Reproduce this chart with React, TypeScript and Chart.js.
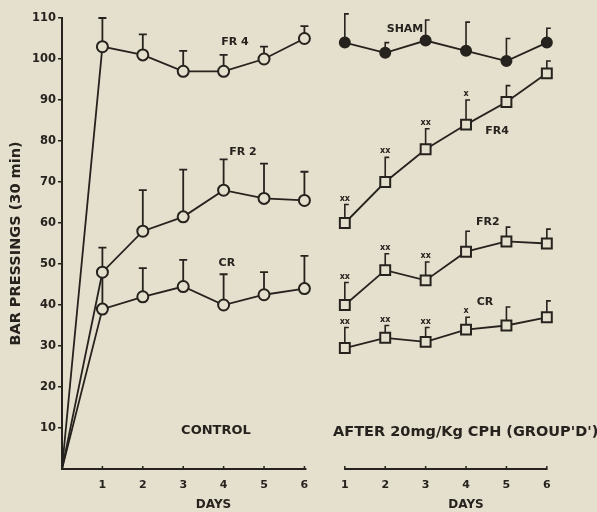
import React, { useEffect, useRef } from 'react';
import { Chart, registerables } from 'chart.js';

Chart.register(...registerables);

// ---------- data ----------
const controlDays = [0, 1, 2, 3, 4, 5, 6];
const ctrlFR4 = [0, 103, 101, 97, 97, 100, 105];
const ctrlFR4Err = [null, 110, 106, 102, 101, 103, 108];
const ctrlFR2 = [0, 48, 58, 61.5, 68, 66, 65.5];
const ctrlFR2Err = [null, 54, 68, 73, 75.5, 74.5, 72.5];
const ctrlCR = [0, 39, 42, 44.5, 40, 42.5, 44];
const ctrlCRErr = [null, 48, 49, 51, 47.5, 48, 52];

const cphDays = [7, 8, 9, 10, 11, 12]; // days 1..6 after CPH, placed after the control block
const cphSham = [104, 101.5, 104.5, 102, 99.5, 104];
const cphShamErr = [111, 104, 109.5, 109, 105, 107.5];
const cphFR4 = [60, 70, 78, 84, 89.5, 96.5];
const cphFR4Err = [64.5, 76, 83, 90, 93.5, 99.5];
const cphFR4Sig = ['xx', 'xx', 'xx', 'x', '', ''];
const cphFR2 = [40, 48.5, 46, 53, 55.5, 55];
const cphFR2Err = [45.5, 52.5, 50.5, 58, 59, 58.5];
const cphFR2Sig = ['xx', 'xx', 'xx', '', '', ''];
const cphCR = [29.5, 32, 31, 34, 35, 37];
const cphCRErr = [34.5, 35, 34.5, 37, 39.5, 41];
const cphCRSig = ['xx', 'xx', 'xx', 'x', '', ''];

const yTickValues = [10, 20, 30, 40, 50, 60, 70, 80, 90, 100, 110];
const xTickValues = [1, 2, 3, 4, 5, 6, 7, 8, 9, 10, 11, 12];
const xTickLabels = ['1', '2', '3', '4', '5', '6', '1', '2', '3', '4', '5', '6'];

const seriesLabels = [
  { text: 'FR 4', x: 4.28, y: 104, size: 11 },
  { text: 'FR 2', x: 4.48, y: 77.3, size: 11 },
  { text: 'CR', x: 4.08, y: 50.2, size: 11 },
  { text: 'CONTROL', x: 3.81, y: 9.3, size: 13 },
  { text: 'SHAM', x: 8.49, y: 107.3, size: 11 },
  { text: 'FR4', x: 10.77, y: 82.4, size: 11 },
  { text: 'FR2', x: 10.54, y: 60.2, size: 11 },
  { text: 'CR', x: 10.47, y: 40.7, size: 11 },
];
const groupLabel = { text: "AFTER 20mg/Kg CPH (GROUP'D')", x: 6.71, y: 9.0 };
const daysTitles = [{ text: 'DAYS', x: 3.75 }, { text: 'DAYS', x: 10.0 }];

const INK = '#26221d';
const PAPER = '#e5dfcd';
const FONT = '"DejaVu Sans", sans-serif';

const pts = (xs: number[], ys: number[]) => xs.map((x, i) => ({ x, y: ys[i] }));

const overlay = {
  id: 'overlay',
  beforeDraw(chart: any) {
    const { ctx, width, height } = chart;
    ctx.save();
    ctx.fillStyle = PAPER;
    ctx.fillRect(0, 0, width, height);
    ctx.restore();
  },
  beforeDatasetsDraw(chart: any) {
    const { ctx } = chart;
    const xs = chart.scales.x;
    const ys = chart.scales.y;
    ctx.save();
    ctx.strokeStyle = INK;
    ctx.fillStyle = INK;
    ctx.lineCap = 'butt';
    // x axis lines (two separate panels)
    const y0 = ys.getPixelForValue(0);
    ctx.lineWidth = 2;
    ctx.beginPath();
    ctx.moveTo(xs.getPixelForValue(0) - 1, y0);
    ctx.lineTo(xs.getPixelForValue(6.05), y0);
    ctx.moveTo(xs.getPixelForValue(7), y0);
    ctx.lineTo(xs.getPixelForValue(12), y0);
    ctx.stroke();
    ctx.lineWidth = 1.5;
    ctx.beginPath();
    xTickValues.forEach((v) => {
      const px = xs.getPixelForValue(v);
      ctx.moveTo(px, y0 - 3);
      ctx.lineTo(px, y0 + 1);
    });
    ctx.stroke();
    // error bars
    chart.data.datasets.forEach((ds: any) => {
      const err = ds.errTop;
      if (!err) return;
      ds.data.forEach((p: any, i: number) => {
        const top = err[i];
        if (top == null) return;
        const px = xs.getPixelForValue(p.x);
        const py = ys.getPixelForValue(p.y);
        const ty = ys.getPixelForValue(top);
        ctx.lineWidth = ds.cap === 'T' ? 1.8 : 1.6;
        ctx.beginPath();
        ctx.moveTo(px, py);
        ctx.lineTo(px, ty);
        if (ds.cap === 'T') {
          ctx.moveTo(px - 4, ty);
          ctx.lineTo(px + 4, ty);
        } else {
          ctx.moveTo(px - 0.8, ty);
          ctx.lineTo(px + 4, ty);
        }
        ctx.stroke();
        const s = ds.sig ? ds.sig[i] : '';
        if (s) {
          ctx.font = `bold 8px ${FONT}`;
          ctx.textAlign = 'center';
          ctx.textBaseline = 'bottom';
          ctx.fillText(s, px, ty - 2);
        }
      });
    });
    ctx.restore();
  },
  afterDraw(chart: any) {
    const { ctx, chartArea } = chart;
    const xs = chart.scales.x;
    const ys = chart.scales.y;
    ctx.save();
    ctx.fillStyle = INK;
    ctx.textBaseline = 'middle';
    ctx.textAlign = 'center';
    seriesLabels.forEach((l) => {
      ctx.font = `bold ${l.size}px ${FONT}`;
      ctx.fillText(l.text, xs.getPixelForValue(l.x), ys.getPixelForValue(l.y));
    });
    ctx.font = `bold 14.5px ${FONT}`;
    ctx.textAlign = 'left';
    ctx.fillText(groupLabel.text, xs.getPixelForValue(groupLabel.x), ys.getPixelForValue(groupLabel.y));
    ctx.textAlign = 'center';
    ctx.font = `bold 12px ${FONT}`;
    daysTitles.forEach((d) => {
      ctx.fillText(d.text, xs.getPixelForValue(d.x), chartArea.bottom + 36);
    });
    ctx.restore();
  },
};

export default function App() {
  const ref = useRef<HTMLCanvasElement>(null);
  useEffect(() => {
    if (!ref.current) return;
    const open = {
      borderColor: INK,
      pointBorderColor: INK,
      pointBackgroundColor: PAPER,
      borderWidth: 1.8,
      pointBorderWidth: 2,
      tension: 0,
      fill: false,
    };
    const circleRadius = controlDays.map((d) => (d === 0 ? 0 : 5.5));
    const chart = new Chart(ref.current, {
      type: 'line',
      data: {
        datasets: [
          { ...open, label: 'FR4 control', data: pts(controlDays, ctrlFR4), pointRadius: circleRadius, pointStyle: 'circle', errTop: ctrlFR4Err, cap: 'T' } as any,
          { ...open, label: 'FR2 control', data: pts(controlDays, ctrlFR2), pointRadius: circleRadius, pointStyle: 'circle', errTop: ctrlFR2Err, cap: 'T' } as any,
          { ...open, label: 'CR control', data: pts(controlDays, ctrlCR), pointRadius: circleRadius, pointStyle: 'circle', errTop: ctrlCRErr, cap: 'T' } as any,
          { ...open, label: 'SHAM', data: pts(cphDays, cphSham), pointRadius: 5, pointStyle: 'circle', pointBackgroundColor: INK, errTop: cphShamErr, cap: 'R' } as any,
          { ...open, label: 'FR4 CPH', data: pts(cphDays, cphFR4), pointRadius: 7, pointStyle: 'rect', errTop: cphFR4Err, cap: 'R', sig: cphFR4Sig } as any,
          { ...open, label: 'FR2 CPH', data: pts(cphDays, cphFR2), pointRadius: 7, pointStyle: 'rect', errTop: cphFR2Err, cap: 'R', sig: cphFR2Sig } as any,
          { ...open, label: 'CR CPH', data: pts(cphDays, cphCR), pointRadius: 7, pointStyle: 'rect', errTop: cphCRErr, cap: 'R', sig: cphCRSig } as any,
        ],
      },
      options: {
        animation: false,
        responsive: false,
        maintainAspectRatio: false,
        layout: { padding: { left: 8, top: 18, right: 34, bottom: 0 } },
        plugins: { legend: { display: false }, tooltip: { enabled: false } },
        scales: {
          x: {
            type: 'linear',
            min: 0,
            max: 12.4,
            border: { display: false },
            grid: { display: false, drawTicks: false },
            afterBuildTicks: (s: any) => {
              s.ticks = xTickValues.map((v) => ({ value: v }));
            },
            afterFit: (s: any) => {
              s.height = 43;
            },
            ticks: {
              autoSkip: false,
              maxRotation: 0,
              padding: 10,
              color: INK,
              font: { family: FONT, size: 11, weight: 'bold' },
              callback: (v: any) => {
                const i = xTickValues.indexOf(Number(v));
                return i >= 0 ? xTickLabels[i] : '';
              },
            },
          },
          y: {
            min: 0,
            max: 110,
            border: { display: true, color: INK, width: 2 },
            grid: { drawOnChartArea: false, drawTicks: true, tickLength: 4, color: INK, lineWidth: 1.5 },
            afterBuildTicks: (s: any) => {
              s.ticks = yTickValues.map((v) => ({ value: v }));
            },
            afterFit: (s: any) => {
              s.width = 54;
            },
            ticks: {
              padding: 2,
              color: INK,
              font: { family: FONT, size: 11.5, weight: 'bold' },
            },
            title: {
              display: true,
              text: 'BAR PRESSINGS (30 min)',
              color: INK,
              padding: 0,
              font: { family: FONT, size: 14.5, weight: 'bold' },
            },
          },
        },
      },
      plugins: [overlay],
    } as any);
    return () => chart.destroy();
  }, []);
  return (
    <div style={{ position: 'fixed', left: 0, top: 0, width: 597, height: 512, background: PAPER }}>
      <canvas ref={ref} width={597} height={512} style={{ width: 597, height: 512, display: 'block' }} />
    </div>
  );
}
